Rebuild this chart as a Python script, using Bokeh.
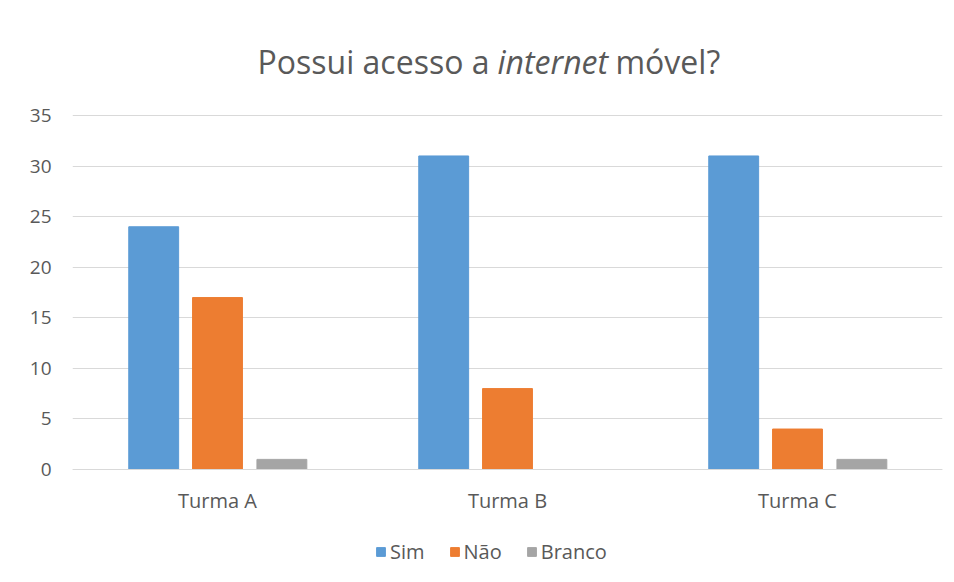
from bokeh.plotting import figure
from bokeh.models import ColumnDataSource, FactorRange, Range1d, Label, Legend, LegendItem
from bokeh.transform import dodge
from bokeh.embed import file_html
from bokeh.resources import INLINE

turmas = ["Turma A", "Turma B", "Turma C"]
sim = [24, 31, 31]
nao = [17, 8, 4]
branco = [1, 0, 1]
series_names = ["Sim", "Não", "Branco"]
colors = ["#5B9BD5", "#ED7D31", "#A5A5A5"]
y_ticks = [0, 5, 10, 15, 20, 25, 30, 35]

FONT = "Open Sans"
TXT = "#595959"
src = ColumnDataSource(dict(turma=turmas, sim=sim, nao=nao, branco=branco))

# frame covers the full height so title and legend can sit inside it;
# the value axis spans 0..35 between pixel rows 115 and 469
px_per_unit = (469 - 115) / 35
y_top = 469 / px_per_unit
y_bot = (469 - 582) / px_per_unit

p = figure(x_range=FactorRange(*turmas, range_padding=0), y_range=Range1d(y_bot, y_top),
           width=954, height=582, output_backend="svg", toolbar_location=None,
           min_border_left=72, min_border_right=12, min_border_top=0, min_border_bottom=0)
p.outline_line_color = None
p.background_fill_color = "white"
p.border_fill_color = "white"

fields = ["sim", "nao", "branco"]
offsets = [-0.22, 0.0, 0.222]
renderers = []
for f, off, c in zip(fields, offsets, colors):
    r = p.vbar(x=dodge("turma", off, range=p.x_range), top=f, width=0.172, source=src,
               fill_color=c, line_color=c)
    renderers.append(r)

p.xgrid.grid_line_color = None
p.ygrid.grid_line_color = "#D9D9D9"
p.ygrid.grid_line_width = 1
p.yaxis.ticker = y_ticks
p.yaxis.axis_line_color = None
p.yaxis.major_tick_line_color = None
p.yaxis.minor_tick_line_color = None
p.yaxis.major_label_text_font = FONT
p.yaxis.major_label_text_font_size = "19px"
p.yaxis.major_label_text_color = TXT
p.yaxis.major_label_standoff = 15

p.xaxis.fixed_location = 0
p.xaxis.axis_line_color = "#D9D9D9"
p.xaxis.major_tick_line_color = None
p.xaxis.minor_tick_line_color = None
p.xaxis.major_label_text_font = FONT
p.xaxis.major_label_text_font_size = "20px"
p.xaxis.major_label_text_color = TXT
p.xaxis.major_label_standoff = 11

legend = Legend(items=[LegendItem(label=n, renderers=[r]) for n, r in zip(series_names, renderers)],
                orientation="horizontal", location=(303, 17),
                glyph_width=11, glyph_height=11, label_standoff=4, spacing=24,
                label_text_font=FONT, label_text_font_size="20px", label_text_color=TXT,
                border_line_color=None, background_fill_color=None, background_fill_alpha=0,
                padding=0, margin=0)
p.add_layout(legend, "center")

# title in three parts (italic word)
ty = (469 - 61) / px_per_unit
title_style = dict(y=ty, text_baseline="middle", text_font=FONT, text_font_size="32px", text_color=TXT)
p.add_layout(Label(x=1.4379, text="Possui acesso a", text_align="right", **title_style))
p.add_layout(Label(x=1.4655, text="internet", text_align="left", text_font_style="italic", **title_style))
p.add_layout(Label(x=1.8724, text="móvel?", text_align="left", **title_style))

open("out.html", "w").write(file_html(p, INLINE))
